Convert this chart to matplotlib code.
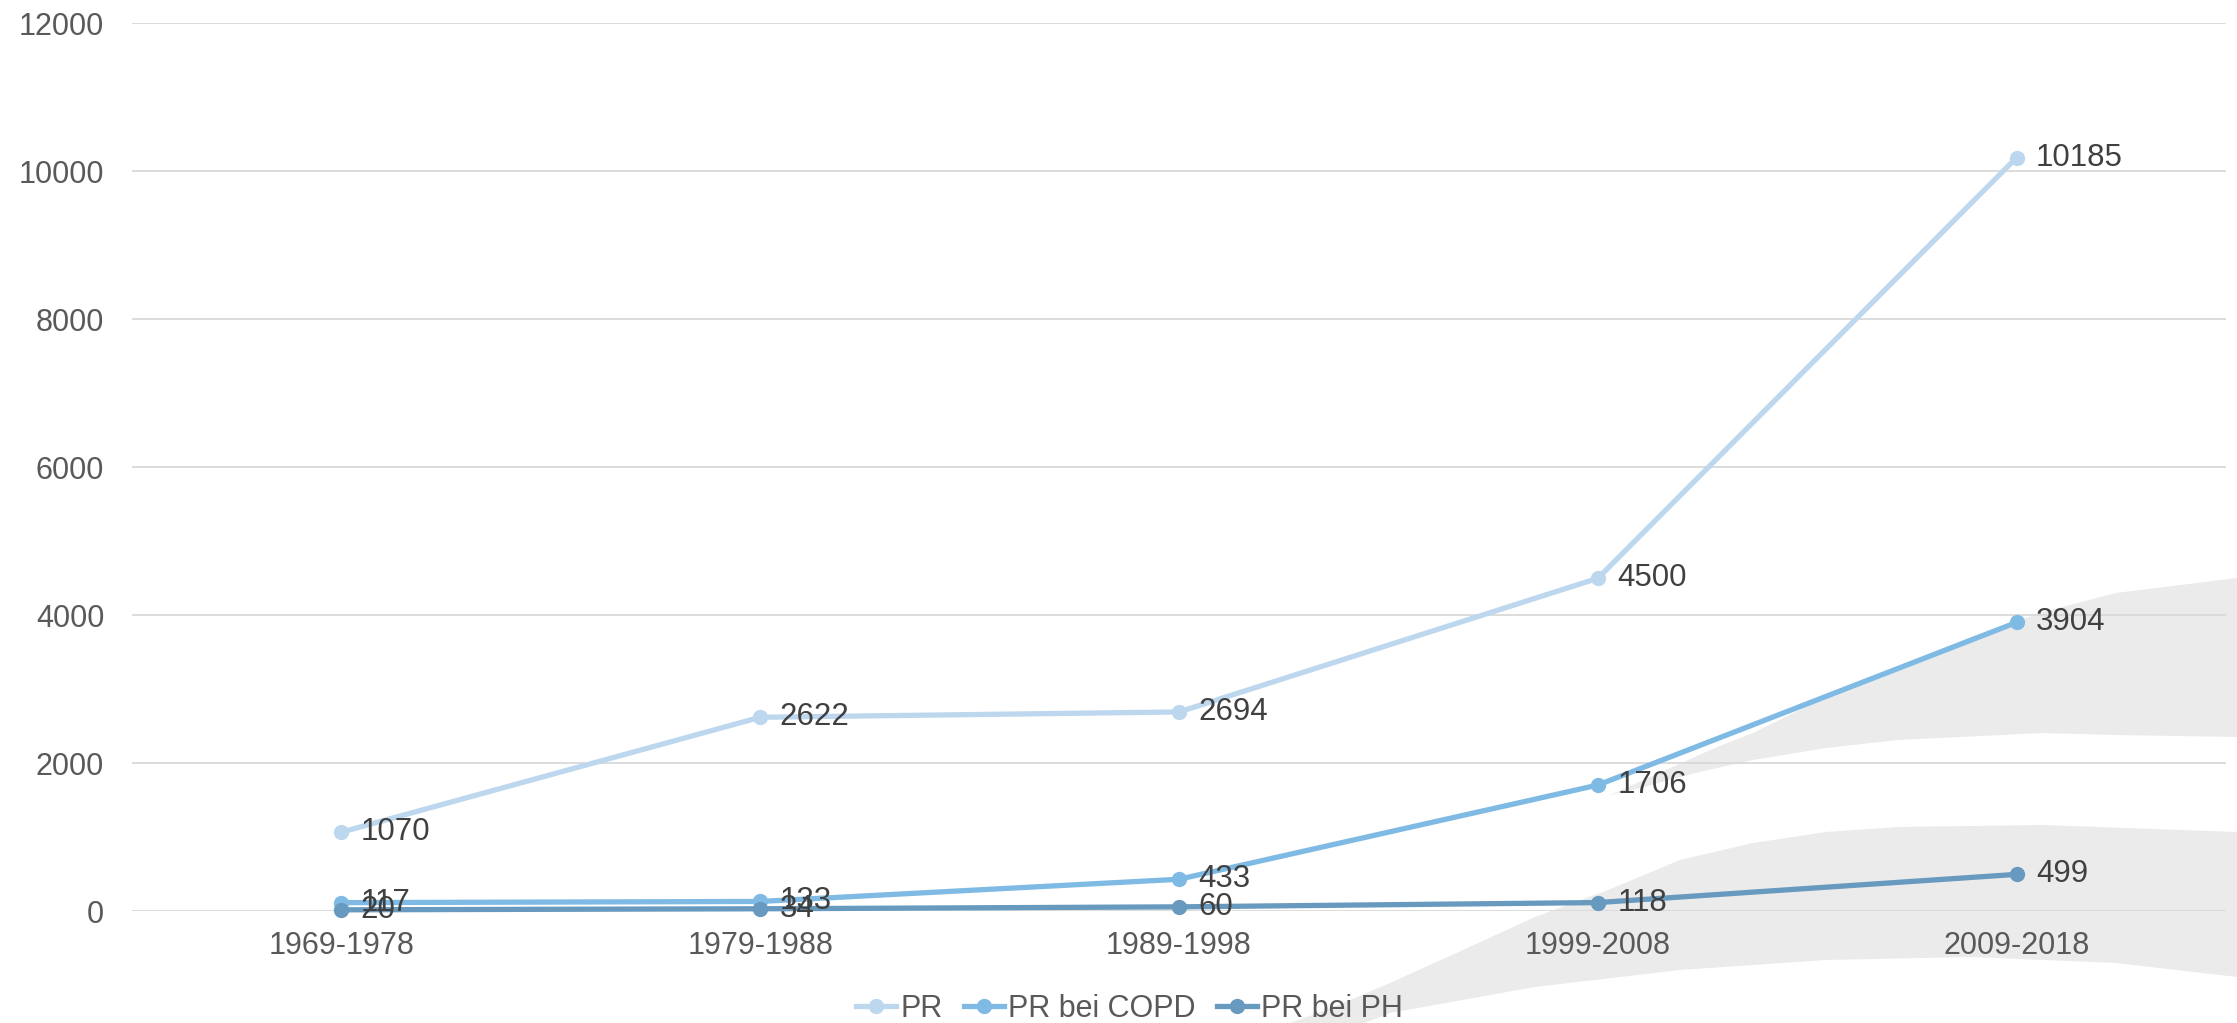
import numpy as np
import matplotlib.pyplot as plt
from matplotlib.patches import Polygon

plt.rcParams['font.family'] = ['Liberation Sans', 'DejaVu Sans']

zeitraum = ['1969-1978', '1979-1988', '1989-1998', '1999-2008', '2009-2018']
pr = [1070, 2622, 2694, 4500, 10185]
pr_copd = [117, 133, 433, 1706, 3904]
pr_ph = [20, 34, 60, 118, 499]

serien = [
    ('PR', pr, '#BDD7EE'),
    ('PR bei COPD', pr_copd, '#7FBAE4'),
    ('PR bei PH', pr_ph, '#6899BE'),
]

W, H = 2237, 1023
fig = plt.figure(figsize=(W / 100, H / 100), dpi=100)

# grey swoosh shapes in the lower right corner (pixel coordinates of the canvas)
swoosh_oben = [(1610, 795), (1717, 747), (1753, 733), (1826, 697), (1898, 667),
               (1971, 637), (2043, 612), (2116, 593), (2237, 578), (2237, 737),
               (2116, 735), (2043, 733), (1898, 740), (1826, 748), (1753, 760),
               (1695, 773), (1644, 787)]
swoosh_unten = [(1290, 1023), (1318, 1013), (1350, 1000), (1390, 983), (1463, 950),
                (1535, 917), (1608, 890), (1680, 860), (1753, 843), (1826, 832),
                (1898, 827), (2043, 825), (2237, 832), (2237, 977), (2116, 963),
                (1971, 957), (1826, 960), (1680, 970), (1535, 987), (1390, 1013),
                (1365, 1023)]
for pts in (swoosh_oben, swoosh_unten):
    xy = [(x / W, 1 - y / H) for x, y in pts]
    fig.patches.append(Polygon(xy, closed=True, transform=fig.transFigure,
                               facecolor='#EBEBEB', edgecolor='none', zorder=-5))

ax = fig.add_axes([132 / W, 1 - 911.3 / H, (2226 - 132) / W, (911.3 - 23.3) / H])
ax.patch.set_alpha(0)

x = np.arange(len(zeitraum))
for name, werte, farbe in serien:
    ax.plot(x, werte, color=farbe, lw=3.8, marker='o', ms=10, label=name,
            clip_on=False, zorder=3)
    for xi, v in zip(x, werte):
        ax.annotate(str(v), (xi, v), xytext=(14, 0), textcoords='offset points',
                    ha='left', va='center', fontsize=22.5, color='#404040', zorder=4)

ax.set_xlim(-0.5, len(zeitraum) - 0.5)
ax.set_ylim(0, 12000)
ax.set_yticks(range(0, 12001, 2000))
ax.set_xticks(x)
ax.set_xticklabels(zeitraum)
ax.tick_params(axis='y', length=0, pad=20, labelsize=22, labelcolor='#595959')
ax.tick_params(axis='x', length=0, pad=14, labelsize=22, labelcolor='#595959')
ax.grid(axis='y', color='#D9D9D9', lw=1.3)
ax.set_axisbelow(True)
for s in ax.spines.values():
    s.set_visible(False)

leg = fig.legend(loc='lower center', bbox_to_anchor=(0.505, -0.028), ncol=3,
                 frameon=False, fontsize=22, handlelength=1.3, handletextpad=0.15,
                 columnspacing=0.7, labelcolor='#595959')

fig.savefig('out.png', dpi=100)
